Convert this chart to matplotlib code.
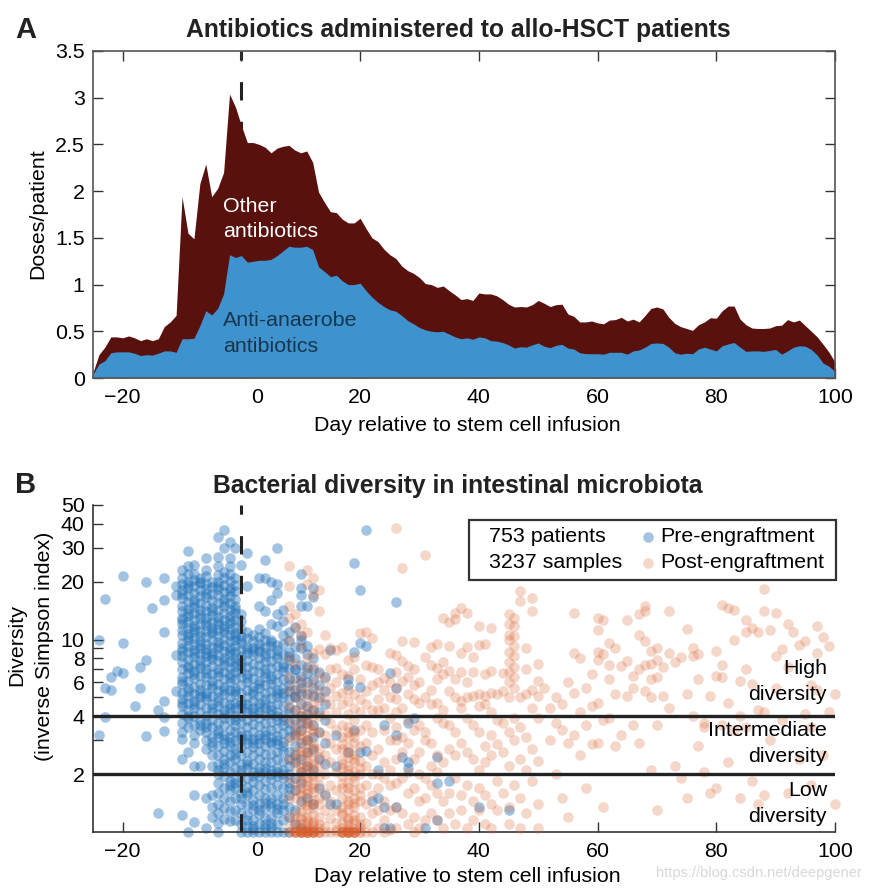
import numpy as np
import matplotlib
matplotlib.use('Agg')
import matplotlib.pyplot as plt
from matplotlib.ticker import FixedLocator, NullFormatter

plt.rcParams['font.family'] = ['Liberation Sans', 'DejaVu Sans']

# panel A, doses per patient for days -25 .. 100
days = list(range(-25, 101))
total_doses = [.06, .25, .33, .44, .44, .43, .45, .43, .40, .42, .40, .42, .55, .60, .67, 1.94, 1.55, 1.49, 2.08, 2.29,
               1.94, 2.03, 2.20, 3.04, 2.90, 2.70, 2.52, 2.52, 2.50, 2.47, 2.41, 2.46, 2.48, 2.49, 2.44, 2.41, 2.43,
               2.31, 1.99, 1.88, 1.78, 1.77, 1.70, 1.66, 1.66, 1.71, 1.60, 1.50, 1.46, 1.38, 1.32, 1.28, 1.20, 1.15,
               1.12, 1.075, 1.01, 1.00, .97, .985, .935, .89, .84, .85, .83, .91, .90, .90, .88, .84, .79, .76, .765,
               .76, .785, .83, .80, .765, .785, .79, .685, .66, .60, .60, .61, .59, .58, .62, .625, .65, .61, .63, .60,
               .67, .745, .76, .74, .65, .585, .55, .53, .51, .57, .60, .645, .64, .72, .77, .77, .63, .57, .535, .53,
               .53, .535, .56, .565, .625, .60, .62, .56, .50, .44, .36, .275, .17]
anaerobe_doses = [.04, .15, .185, .27, .28, .28, .28, .265, .24, .25, .245, .265, .29, .29, .275, .42, .42, .425, .56,
                  .72, .675, .745, .90, 1.32, 1.29, 1.31, 1.24, 1.25, 1.26, 1.26, 1.27, 1.31, 1.36, 1.41, 1.40, 1.40,
                  1.41, 1.375, 1.19, 1.14, 1.085, 1.10, 1.04, 1.00, 1.00, 1.015, .935, .865, .81, .765, .73, .715, .67,
                  .615, .58, .54, .515, .50, .495, .50, .47, .44, .42, .43, .415, .44, .43, .40, .395, .38, .355, .32,
                  .335, .33, .355, .375, .34, .325, .35, .36, .32, .31, .27, .26, .26, .26, .255, .275, .275, .275,
                  .255, .29, .30, .33, .37, .375, .37, .33, .27, .255, .265, .26, .31, .33, .31, .29, .345, .365, .38,
                  .33, .285, .29, .29, .285, .295, .305, .255, .29, .33, .345, .34, .305, .245, .16, .125, .07]

# panel B, pre-engraftment samples: scattered ones as day/diversity pairs
pre_days_sparse = [-20, -16, -13, -23, -15, -13, -24, -20, -13, -16, -17, -21, -20, -22, -23, -22, -17, -18, -14, -13,
                   -23, -13, -24, -16, -13, -14, -11, -11, -11, -11, -10, -8, -9, -6, -4, -8, -6, -5, -10, -8, -7, -9,
                   -3, -4, -2, -3, -1, -9, -6, -4, -2, 1, 4, 6, 0, -8, 3, 4, 5, 6, 1, 6, 5, 3, 4, 7, 6,
                   10, 10, 12, 10, 12, 10, 11, 21, 19, 20, 26, 20, 21, 19, 15, 25, 26, 18, 20, 18, 29, 24, 26, 28, 27,
                   28, 28, 23, 35, 33, 33, 23, 22, 24, 26, 40, 45, 33, 31, 25, 24, 20, 21, 19, 16, 16, 18, 16, 15]
pre_div_sparse = [21.3, 20, 21, 16.3, 14.5, 16, 10, 9.6, 10.9, 7.8, 7.2, 6.9, 6.7, 6.35, 5.6, 5.5, 5.6, 4.5, 4.3, 4.8,
                  3.95, 3.95, 3.2, 3.15, 3.35, 1.25, 5.4, 8.3, 19, 17, 1.22, 1.13, 1.0, 1.05, 1.0, 1.55, 1.5, 1.56,
                  2.4, 2.2, 2.2, 2.6, 37, 34, 32, 30, 30, 29, 26.5, 27, 26.5, 28, 26, 30, 24.5, 24.5, 21, 21, 20,
                  19.5, 19, 17.5, 16, 15, 14, 14.3, 13.5, 22, 18.5, 18.5, 17, 16.6, 15, 15, 37, 25, 18, 15.6, 9.6, 9.3,
                  8.6, 8.8, 6.7, 5.6, 6.2, 5.7, 5.8, 3.9, 3.6, 3.2, 3.7, 2.45, 2.3, 2.15, 2.1, 1.85, 2.45, 1.8, 1.5,
                  1.45, 1.35, 1.35, 1.35, 1.3, 1.15, 1.05, 1.05, 1.05, 2.6, 2.65, 3.4, 3.2, 2.2, 2.6, 1.4, 1.4]

# dense columns of pre-engraftment samples, one list per day
pre_m10 = [23, 21, 19.5, 18, 16.5, 15, 14, 13, 12, 11.2, 10.5, 9.6, 9, 8.2, 7.6, 7, 6.4, 5.9, 5.3, 4.9, 4.5, 4.1, 3.7, 3.3, 3.05]
pre_m9 = [24, 22, 20, 18.6, 17, 15.6, 14.4, 13.3, 12.3, 11.5, 10.7, 10, 9.3, 8.6, 7.9, 7.3, 6.7, 6.1, 5.6, 5.1, 4.7, 4.3, 3.9, 3.5]
pre_m8 = [22, 20.5, 19, 17.5, 16, 14.8, 13.7, 12.6, 11.7, 11, 10.2, 9.5, 8.8, 8.1, 7.5, 6.9, 6.3, 5.7, 5.2, 4.8, 4.4, 4, 3.6, 3.2, 2.9]
pre_m7 = [21, 19.7, 18, 16.8, 15.4, 14.2, 13, 12, 11.1, 10.4, 9.8, 9, 8.4, 7.8, 7.1, 6.5, 5.9, 5.5, 5, 4.6, 4.2, 3.8, 3.4]
pre_m6 = [23, 21.5, 19.5, 18.2, 16.6, 15.2, 14, 12.9, 11.9, 11.1, 10.3, 9.5, 8.9, 8.2, 7.6, 7, 6.4, 5.8, 5.3, 4.9, 4.4, 4, 3.7, 3.3, 3, 2.7]
pre_m5 = [20, 18.8, 17.2, 15.9, 14.6, 13.4, 12.4, 11.5, 10.8, 10, 9.2, 8.5, 7.9, 7.3, 6.6, 6.1, 5.6, 5.1, 4.6, 4.2, 3.8, 3.5, 3.1, 2.8, 2.5, 2.2, 1.35, 1.2]
pre_m4 = [24, 21.6, 20, 18.4, 17, 15.4, 14.2, 13.1, 12, 11.2, 10.4, 9.7, 9, 8.3, 7.7, 7, 6.5, 5.9, 5.4, 5, 4.5, 4.1, 3.7, 3.4, 3.1, 2.8, 2.5, 2.25, 2, 1.8, 1.6, 1.4, 1.25, 1.12]
pre_m3 = [22.5, 20.8, 19.2, 17.6, 16.2, 14.9, 13.8, 12.7, 11.8, 10.9, 10.1, 9.4, 8.7, 8, 7.4, 6.8, 6.2, 5.7, 5.2, 4.7, 4.3, 3.9, 3.6, 3.2, 2.9, 2.65, 2.4, 2.15, 1.95, 1.7, 1.5, 1.33, 1.17]
pre_m2 = [24, 22, 20.2, 18.5, 16.9, 15.5, 14.3, 13.2, 12.2, 11.3, 10.5, 9.8, 9, 8.4, 7.7, 7.1, 6.6, 6, 5.5, 5, 4.6, 4.2, 3.8, 3.4, 3.1, 2.8, 2.5, 2.3, 2.05, 1.85, 1.65, 1.45, 1.28, 1.14]
pre_m1 = [21, 19.2, 17.8, 16.3, 15, 13.8, 12.6, 11.6, 10.8, 10, 9.3, 8.6, 8, 7.3, 6.8, 6.2, 5.6, 5.2, 4.7, 4.4, 4, 3.6, 3.3, 3, 2.7, 2.4, 2.15, 1.9, 1.7, 1.5, 1.3, 1.16]
pre_0 = [13.5, 12.5, 11.4, 10.4, 9.6, 8.8, 8.2, 7.6, 6.9, 6.4, 5.8, 5.3, 4.8, 4.4, 4, 3.7, 3.3, 3, 2.75, 2.5, 2.25, 2, 1.8, 1.6, 1.4, 1.25, 1.1, 1.0]
pre_1 = [11, 10.2, 9.2, 8.5, 7.8, 7.2, 6.6, 6, 5.5, 5, 4.6, 4.2, 3.8, 3.5, 3.2, 2.9, 2.6, 2.35, 2.15, 1.9, 1.72, 1.55, 1.38, 1.22, 1.08, 1.0]
pre_2 = [10.6, 9.8, 9, 8.3, 7.5, 6.9, 6.3, 5.7, 5.2, 4.8, 4.4, 4, 3.65, 3.3, 3.05, 2.75, 2.5, 2.25, 2.05, 1.82, 1.65, 1.47, 1.3, 1.15, 1.04, 1.0]
pre_3 = [11.4, 10.3, 9.5, 8.7, 8, 7.4, 6.8, 6.1, 5.6, 5.1, 4.7, 4.2, 3.9, 3.55, 3.2, 2.9, 2.65, 2.4, 2.15, 1.95, 1.75, 1.55, 1.4, 1.24, 1.1, 1.0]
pre_4 = [10.8, 9.9, 9.1, 8.2, 7.6, 7, 6.4, 5.8, 5.3, 4.9, 4.4, 4.05, 3.7, 3.35, 3.05, 2.8, 2.55, 2.3, 2.05, 1.85, 1.68, 1.5, 1.33, 1.18, 1.05, 1.0]
pre_5 = [12, 10, 9.3, 8.5, 7.7, 7.1, 6.5, 5.9, 5.4, 4.95, 4.5, 4.1, 3.75, 3.4, 3.1, 2.85, 2.55, 2.3, 2.1, 1.88, 1.7, 1.5, 1.35, 1.2, 1.06, 1.0]
pre_6 = [11.7, 9.4, 8.8, 8, 7.3, 6.6, 6, 5.5, 5, 4.6, 4.2, 3.8, 3.45, 3.15, 2.85, 2.6, 2.4, 2.15, 1.95, 1.75, 1.55, 1.4, 1.25, 1.1, 1.0]
pre_7 = [12.5, 10.5, 9.5, 8.4, 7.5, 6.9, 6.2, 5.6, 5, 4.5, 4, 3.6, 3.25, 2.95, 2.65, 2.35, 2.1, 1.9, 1.7, 1.5, 1.3, 1.15, 1.0]
pre_8 = [11, 9.8, 8.6, 7.8, 7, 6.2, 5.4, 4.9, 4.4, 3.7, 3.1, 2.6, 2.2, 2, 1.8, 1.55, 1.35, 1.2, 1.0]
pre_9 = [11.6, 9.2, 8, 7, 6.3, 5.5, 5, 4.3, 3.8, 3.2, 2.8, 2.3, 1.9, 1.65, 1.3, 1.1]
pre_10 = [10.4, 9, 7.4, 6.5, 5.6, 5.2, 4.6, 4, 3.4, 2.9, 2.4, 1.8, 1.45, 1.05]
pre_11 = [9.3, 8.4, 7.2, 6, 5.2, 4.5, 3.7, 3, 2.2, 1.5]
pre_12 = [8, 7, 6.2, 5.1, 4.3, 3.6, 2.7, 2.1, 1.4]
pre_13 = [6.8, 5.8, 5, 4.2, 3.3, 2.4, 1.7]
pre_14 = [6.4, 5.4, 4.6, 3.8, 2.9, 2.25, 1.55]
pre_columns = [pre_m10, pre_m9, pre_m8, pre_m7, pre_m6, pre_m5, pre_m4, pre_m3, pre_m2, pre_m1, pre_0, pre_1, pre_2,
               pre_3, pre_4, pre_5, pre_6, pre_7, pre_8, pre_9, pre_10, pre_11, pre_12, pre_13, pre_14]
pre_column_days = list(range(-10, 15))

# second reading of the crowded blue block
pre_days_extra = [-10, -10, -10, -10, -10, -9, -9, -9, -9, -9, -9, -8, -8, -8, -8, -8, -7, -7, -7, -7, -7, -7, -6, -6,
                  -6, -6, -6, -6, -5, -5, -5, -5, -5, -5, -4, -4, -4, -4, -4, -4, -4, -3, -3, -3, -3, -3, -3, -3, -2,
                  -2, -2, -2, -2, -2, -2, -1, -1, -1, -1, -1, -1, -1, 0, 0, 0, 0, 0, 0, 1, 1, 1, 1, 1, 1, 1, 2, 2, 2,
                  2, 2, 2, 2, 3, 3, 3, 3, 3, 3, 4, 4, 4, 4, 4, 4, 4, 5, 5, 5, 5, 5, 5, 5, 6, 6, 6, 6, 6, 6, 7, 7, 7, 7,
                  7, 7, 8, 8, 8, 8, 8, 8, 9, 9, 9, 9, 10, 10, 10, 10, 11, 11, 11, 12, 12]
pre_div_extra = [17.3, 12.6, 8.7, 6.1, 4.7, 19.2, 13.7, 10.3, 7.1, 5.4, 4, 15.4, 11.3, 8.5, 6.6, 4.6, 20, 13.5, 9.4, 7.4,
                 5.2, 3.6, 17.2, 12.4, 8.5, 6.7, 5.1, 3.5, 14, 11.1, 8.2, 5.8, 4.4, 2.95, 19, 12.5, 9.3, 6.8, 4.8, 3.25,
                 2.1, 15.6, 11.4, 7.7, 5.5, 4.1, 3.05, 2.25, 17.8, 12.7, 8.7, 6.3, 4.4, 2.95, 1.75, 14.4, 10.4, 7.6,
                 5.4, 3.8, 2.55, 1.8, 10, 7.3, 4.6, 3.15, 2.1, 1.5, 8.9, 6.3, 4.4, 3.05, 2.25, 1.62, 1.15, 8.7, 5.4,
                 4.2, 2.9, 1.95, 1.38, 1.08, 9, 5.85, 4.45, 3.05, 2.05, 1.3, 8.5, 6.7, 4.65, 3.2, 2.15, 1.42, 1.1, 9.7,
                 6.2, 4.3, 2.95, 2, 1.42, 1.12, 8.3, 5.25, 4, 3, 2.05, 1.32, 7.2, 5.3, 3.8, 2.8, 2, 1.4, 8.2, 5.8, 4.15,
                 3.4, 2.4, 1.7, 7, 5.1, 3.4, 2.5, 9.9, 6, 3.7, 2.05, 6.7, 4.1, 2.6, 5.6, 3.1]

# dense columns of post-engraftment samples around engraftment
post_8 = [24, 19, 15, 13, 10, 8, 6.4, 5.5, 4.5, 3.8, 3, 2.4, 1.9, 1.5, 1.2, 1.05, 1.0]
post_9 = [13.5, 11.5, 7.5, 5.8, 5, 4.3, 3.6, 3.1, 2.6, 2.2, 1.8, 1.5, 1.25, 1.1, 1.03, 1.0, 1.0]
post_10 = [12, 10.5, 9.3, 6.2, 5.4, 4.7, 4.2, 3.8, 3.4, 3.05, 2.75, 2.5, 2.25, 2.05, 1.85, 1.7, 1.55, 1.4, 1.28, 1.17, 1.1, 1.05, 1.02, 1.0, 1.0, 1.0]
post_11 = [23, 19.5, 11, 8, 7, 5.7, 5, 4.4, 3.9, 3.5, 3.15, 2.85, 2.6, 2.35, 2.12, 1.92, 1.75, 1.6, 1.45, 1.32, 1.2, 1.12, 1.06, 1.02, 1.0, 1.0, 1.0, 1.0]
post_12 = [21, 17, 8.5, 7.3, 6, 5.2, 4.6, 4, 3.6, 3.25, 2.9, 2.65, 2.4, 2.15, 1.95, 1.78, 1.62, 1.47, 1.34, 1.22, 1.13, 1.07, 1.03, 1.0, 1.0, 1.0]
post_13 = [18, 14, 8.9, 6.6, 5.5, 4.8, 4, 3.3, 2.7, 2.2, 1.75, 1.4, 1.2, 1.1, 1.0, 1.0]
post_14 = [10.5, 8.4, 6.2, 5, 4.1, 3.2, 2.5, 2, 1.6, 1.3, 1.08, 1.0]
post_15 = [9, 7, 5.6, 4.6, 3.7, 2.9, 2.3, 1.75, 1.45, 1.18, 1.0]
post_16 = [8.8, 7.1, 6, 5.1, 4.2, 3.4, 2.7, 2.05, 1.65, 1.3, 1.12, 1.02, 1.0]
post_17 = [9.1, 6.6, 5.3, 4.6, 3.6, 3.1, 2.7, 2.4, 2.15, 1.95, 1.7, 1.5, 1.35, 1.22, 1.12, 1.05, 1.0, 1.0, 1.0]
post_18 = [7.8, 6.5, 5.5, 4.8, 4.1, 3.5, 3.1, 2.75, 2.45, 2.2, 2, 1.8, 1.6, 1.45, 1.3, 1.18, 1.1, 1.04, 1.0, 1.0, 1.0, 1.0]
post_19 = [7, 8.1, 5.2, 4.4, 3.8, 3.3, 2.9, 2.55, 2.3, 2.05, 1.85, 1.65, 1.5, 1.35, 1.22, 1.1, 1.04, 1.0, 1.0, 1.0]
post_20 = [10.8, 6.2, 4.9, 4.2, 3.4, 2.8, 2.35, 2, 1.7, 1.45, 1.2, 1.05, 1.0]
post_21 = [11, 7.4, 5.4, 4.6, 3.6, 2.9, 2.2, 1.75, 1.4, 1.12, 1.0]
post_22 = [10.2, 7.2, 5.8, 4.3, 3.3, 2.5, 2, 1.55, 1.25, 1.0]
post_23 = [7, 6, 4.9, 4.3, 2.7, 2, 1.7, 1.3, 1.05]
post_24 = [6.3, 5.5, 4.4, 3.4, 2.3, 1.9, 1.45, 1.15, 1.0]
post_25 = [8.5, 6, 5, 3.9, 3, 2.1, 1.75, 1.3, 1.02]
post_26 = [38, 8.3, 6.8, 5.6, 4.9, 4.2, 3.5, 3, 2.4, 1.8, 1.35, 1.05]
post_27 = [23.5, 9.8, 7.7, 6.1, 4.4, 3.1, 2.6, 1.9, 1.25]
post_28 = [7.3, 6.4, 5.2, 3.8, 2.9, 2.05, 1.6, 1.1]
post_29 = [9.7, 7, 5.8, 4.9, 3.4, 2.4, 1.7, 1.2, 1.0]
post_30 = [6, 4.7, 3.6, 2.6, 2, 1.45, 1.05]
post_31 = [27.5, 8.1, 5, 3.3, 3, 1.9, 1.5, 1.15]
post_32 = [9.2, 7.4, 5.5, 4.6, 2.9, 2.2, 1.75, 1.25]
post_33 = [9.5, 7.1, 6.2, 4.7, 3.9, 2.5, 2.05, 1.6, 1.15]
post_34 = [13, 7.6, 6.6, 4.3, 3.7, 2.3, 1.45, 1.05]
post_35 = [12.3, 9.3, 6.9, 5.4, 3.6, 2.7, 1.6, 1.25]
post_36 = [13.7, 12.8, 6.2, 5, 3.3, 2.5, 1.9, 1.1]
post_37 = [14.5, 8.5, 6.8, 4.8, 4.4, 2.9, 1.55, 1.3]
post_38 = [13.8, 9.2, 6, 5, 3.9, 2.6, 1.75, 1.05]
post_39 = [8.1, 6.8, 5.1, 3.6, 2.4, 1.45, 1.15]
post_40 = [11.7, 9.4, 5.2, 4.5, 3.3, 2.1, 1.7, 1.3]
post_41 = [9.5, 6.6, 5.1, 4.6, 2.8, 2.3, 1.55, 1.1]
post_42 = [11.5, 6.9, 5.3, 4.2, 3.2, 2.5, 1.4, 1.05]
post_43 = [5.2, 3.8, 2.85, 1.85, 1.3]
post_44 = [6.7, 5.4, 3.7, 2.6, 1.6]
post_45 = [13.5, 12, 10.6, 9.9, 8.6, 7.6, 6.8, 6, 5, 3.3, 2.2, 1.35, 1.1]
post_46 = [13, 11.8, 10.4, 9.3, 8.2, 7.2, 6.4, 5.6, 3.9, 3, 1.75]
post_47 = [17.8, 15.8, 5, 3.5, 2.4, 1.5, 1.05]
post_48 = [9, 7, 5.2, 3.1, 2.1, 1.25]
post_49 = [16.5, 14, 5.5, 4.4, 2.7, 1.85]
post_50 = [7.5, 6.1, 5.1, 3.9, 2.35, 1.4, 1.05]
post_columns = [post_8, post_9, post_10, post_11, post_12, post_13, post_14, post_15, post_16, post_17, post_18,
                post_19, post_20, post_21, post_22, post_23, post_24, post_25, post_26, post_27, post_28, post_29,
                post_30, post_31, post_32, post_33, post_34, post_35, post_36, post_37, post_38, post_39, post_40,
                post_41, post_42, post_43, post_44, post_45, post_46, post_47, post_48, post_49, post_50]
post_column_days = list(range(8, 51))

# second reading of the two crowded orange stripes
post_days_extra = [9, 9, 9, 9, 9, 9, 10, 10, 10, 10, 10, 10, 10, 10, 10, 10, 11, 11, 11, 11, 11, 11, 11, 11, 11, 11, 11,
                   12, 12, 12, 12, 12, 12, 12, 12, 12, 12, 13, 13, 13, 13, 13, 17, 17, 17, 17, 17, 17, 18, 18, 18, 18,
                   18, 18, 18, 18, 18, 19, 19, 19, 19, 19, 19, 19, 20, 20, 20, 20]
post_div_extra = [3.3, 2.4, 1.65, 1.15, 1.0, 1.0, 4, 3.2, 2.6, 2.15, 1.95, 1.6, 1.2, 1.0, 1.0, 1.0, 3.7, 3, 2.5, 2.2, 1.85,
                  1.65, 1.38, 1.15, 1.03, 1.0, 1.0, 4.3, 3.4, 2.75, 2.25, 2, 1.7, 1.4, 1.1, 1.0, 1.0, 2.45, 1.95, 1.5,
                  1.05, 1.0, 2.85, 2.25, 1.8, 1.25, 1.0, 1.0, 3.3, 2.6, 2.1, 1.7, 1.4, 1.15, 1.02, 1.0, 1.0, 3.1, 2.4,
                  1.95, 1.42, 1.15, 1.0, 1.0, 2.15, 1.55, 1.1, 1.0]

# right part of panel B
post_days_far = [51, 52, 52, 53, 53, 53, 54, 54, 54, 55, 55, 55, 56, 56, 56, 56, 57, 57, 57, 58, 58, 58, 59, 59, 59,
                 60, 60, 60, 60, 60, 60, 61, 61, 61, 61, 62, 62, 62, 62, 63, 63, 63, 64, 64, 65, 65, 65, 66, 66, 66,
                 67, 67, 67, 67, 68, 68, 68, 68, 68, 69, 69, 69, 69, 69, 70, 70, 70, 70, 70, 71, 71, 72, 72, 72, 73,
                 73, 74, 74, 75, 75, 75, 76, 76, 76, 77, 77, 77, 78, 78, 78, 79, 79, 80, 80, 80, 81, 81, 81, 81, 82,
                 82, 82, 83, 83, 83, 84, 84, 84, 85, 85, 85, 85, 86, 86, 86, 87, 87, 87, 88, 88, 88, 88, 89, 89, 90,
                 90, 90, 91, 91, 92, 92, 92, 93, 94, 94, 95, 95, 96, 96, 96, 97, 97, 98, 98, 99, 99, 100, 100, 97]
post_div_far = [5.6, 4.4, 3, 5, 3.7, 2, 4.6, 3.4, 1.5, 6, 2.9, 1.2, 13.7, 8.5, 5.3, 3.2, 8, 4.2, 2.5, 5.6, 3.6, 1.7,
                6.6, 4.5, 2.85, 12.9, 11.2, 8.6, 7.8, 4.7, 2.9, 12.7, 8.4, 3.8, 1.35, 9.6, 7.4, 6.2, 3.9, 9, 5.2, 2.8,
                7.3, 3.2, 12.6, 7.7, 5.1, 6.5, 5.6, 3.6, 13.6, 10.5, 7, 2.9, 15, 14, 9.8, 7.4, 5.4, 8.7, 7.5, 6.2, 5,
                2.1, 9, 7.8, 6.4, 3.6, 1.3, 7.2, 5.1, 14, 8.5, 4.4, 7.6, 2.2, 8.1, 1.9, 11.4, 5.2, 1.5, 9, 8.2, 4, 8.4,
                6.2, 2.8, 3.7, 3.5, 2.05, 5.1, 1.6, 8.7, 6.5, 1.7, 15.2, 7.4, 6.4, 3.6, 14.6, 4.7, 2.3, 14.2, 9.9, 3.4,
                6.1, 4, 1.5, 12.6, 11, 7, 3.5, 11.5, 5.9, 1.85, 11, 4.3, 1.4, 18.4, 14, 4.2, 1.55, 11.2, 3, 13.7, 8.2,
                5.6, 8.9, 3.8, 12, 7.2, 1.6, 10.9, 9.4, 2.4, 9.8, 4.1, 5.8, 3.5, 1.75, 11.8, 8.5, 10.3, 2.5, 9.3, 4.2,
                5.2, 1.4, 5.5]

tick_days = [-20, 0, 20, 40, 60, 80, 100]
dose_ticks = [0, 0.5, 1, 1.5, 2, 2.5, 3, 3.5]
dose_labels = ['0', '0.5', '1', '1.5', '2', '2.5', '3', '3.5']
diversity_ticks = [2, 4, 6, 8, 10, 20, 30, 40, 50]
diversity_minor = [3, 5, 7, 9]

W, H = 872, 894
font = 15.4
dot = 58


def px_axes(left, top, right, bottom):
    return fig.add_axes([left / W, 1 - bottom / H, (right - left) / W, (bottom - top) / H])


def px_text(x, y, s, **kw):
    kw.setdefault('fontsize', font)
    kw.setdefault('va', 'center')
    fig.text(x / W, 1 - y / H, s, **kw)


fig = plt.figure(figsize=(W / 100, H / 100), dpi=100)

# panel A
ax1 = px_axes(93, 51, 835, 378)
ax1.vlines(0, 0, 3.5, color='#222222', lw=2.2, linestyles=(0, (6, 7)), zorder=1)
ax1.fill_between(days, 0, total_doses, color='#59110e', lw=0, zorder=2)
ax1.fill_between(days, 0, anaerobe_doses, color='#3e93cf', lw=0, zorder=3)
ax1.set_xlim(-25, 100)
ax1.set_ylim(0, 3.5)
ax1.set_yticks(dose_ticks, dose_labels)
ax1.set_xticks(tick_days, ['\u221220', '', '20', '40', '60', '80', '100'])
ax1.tick_params(direction='in', top=True, right=True, length=7, width=1, labelsize=font, color='#333333')
ax1.tick_params(axis='x', pad=7)
ax1.tick_params(axis='y', pad=6)
for s in ax1.spines.values():
    s.set_color('#555555')
    s.set_linewidth(1.2)
    s.set_zorder(5)

# panel B
ax2 = px_axes(93, 505, 835, 832)
ax2.set_yscale('log')
pre_x = pre_days_sparse + [d for d, col in zip(pre_column_days, pre_columns) for _ in col] + pre_days_extra
pre_y = pre_div_sparse + [v for col in pre_columns for v in col] + pre_div_extra
post_x = [d for d, col in zip(post_column_days, post_columns) for _ in col] + post_days_extra + post_days_far
post_y = [v for col in post_columns for v in col] + post_div_extra + post_div_far
ax2.scatter(pre_x, pre_y, s=dot, color='#2272b8', alpha=0.42, lw=0, clip_on=False, zorder=2)
ax2.scatter(post_x, post_y, s=dot, color='#d8602f', alpha=0.25, lw=0, clip_on=False, zorder=3)
ax2.vlines(0, 1, 50, color='#222222', lw=2.2, linestyles=(0, (6, 7)), zorder=4)
ax2.axhline(4, color='#222222', lw=2.4, zorder=5)
ax2.axhline(2, color='#222222', lw=2.4, zorder=5)
ax2.set_xlim(-25, 100)
ax2.set_ylim(1, 50)
ax2.set_xticks(tick_days, ['\u221220', '', '20', '40', '60', '80', '100'])
ax2.yaxis.set_major_locator(FixedLocator(diversity_ticks))
ax2.set_yticklabels([str(v) for v in diversity_ticks])
ax2.yaxis.set_minor_locator(FixedLocator(diversity_minor))
ax2.yaxis.set_minor_formatter(NullFormatter())
ax2.tick_params(which='both', direction='in', length=7, width=1, labelsize=font, color='#333333')
ax2.tick_params(axis='x', pad=7)
ax2.tick_params(axis='y', pad=6)
ax2.spines['top'].set_visible(False)
ax2.spines['right'].set_visible(False)
for side in ['left', 'bottom']:
    ax2.spines[side].set_color('#333333')
    ax2.spines[side].set_linewidth(1.2)

# the zero labels sit to the right of their ticks in the original
px_text(257, 397, '0', ha='center')
px_text(257, 850, '0', ha='center')

px_text(15, 30, 'A', fontsize=21, fontweight='bold', color='#222222')
px_text(15, 485, 'B', fontsize=21, fontweight='bold', color='#222222')
px_text(458, 30, 'Antibiotics administered to allo-HSCT patients', ha='center', fontsize=17.8, fontweight='bold', color='#222222')
px_text(458, 486, 'Bacterial diversity in intestinal microbiota', ha='center', fontsize=17.8, fontweight='bold', color='#222222')
px_text(467, 425, 'Day relative to stem cell infusion', ha='center')
px_text(467, 877, 'Day relative to stem cell infusion', ha='center')
px_text(38, 214, 'Doses/patient', ha='center', rotation=90)
px_text(17, 645, 'Diversity', ha='center', rotation=90)
px_text(45, 646, '(inverse Simpson index)', ha='center', rotation=90)

px_text(223, 207, 'Other', color='white')
px_text(223, 232, 'antibiotics', color='white')
px_text(223, 321, 'Anti-anaerobe', color='#18364d')
px_text(223, 346, 'antibiotics', color='#18364d')

px_text(827, 668, 'High', ha='right')
px_text(827, 694, 'diversity', ha='right')
px_text(827, 731, 'Intermediate', ha='right')
px_text(827, 757, 'diversity', ha='right')
px_text(827, 790, 'Low', ha='right')
px_text(827, 816, 'diversity', ha='right')

# legend box
box = plt.Rectangle((469 / W, 1 - 580 / H), 367 / W, 60 / H, transform=fig.transFigure, fc='white', ec='#333333', lw=1.6, zorder=6)
fig.add_artist(box)
px_text(489, 537, '753 patients', zorder=7)
px_text(489, 563, '3237 samples', zorder=7)
px_text(660, 537, 'Pre-engraftment', zorder=7)
px_text(660, 563, 'Post-engraftment', zorder=7)
legend_ax = px_axes(640, 525, 656, 575)
legend_ax.set_zorder(8)
legend_ax.axis('off')
legend_ax.set_xlim(0, 1)
legend_ax.set_ylim(0, 1)
legend_ax.scatter([0.5], [0.76], s=dot, color='#2272b8', alpha=0.42, lw=0)
legend_ax.scatter([0.5], [0.24], s=dot, color='#d8602f', alpha=0.25, lw=0)

px_text(862, 873, 'https://blog.csdn.net/deepgener', ha='right', fontsize=10.5, color='#d8d8d8')

fig.savefig('out.png', dpi=100)
